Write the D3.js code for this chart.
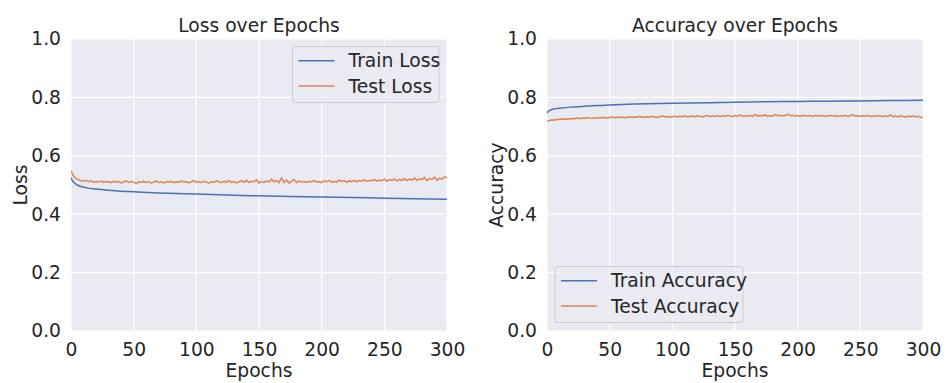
<!DOCTYPE html>
<html><head><meta charset="utf-8">
<script src="https://cdn.jsdelivr.net/npm/d3@7"></script>
<style>body{margin:0;background:#fff}text{font-family:"DejaVu Sans",sans-serif;fill:#262626}</style>
</head><body><svg id="c" width="947" height="383"></svg>
<script>
// ---- data ----
const xTicks = [0,50,100,150,200,250,300];
const yTicks = [0.0,0.2,0.4,0.6,0.8,1.0];

const trainLossEpochs = [0,1,2,3,5,8,12,20,30,40,50,70,100,130,150,175,200,225,250,275,300];
const trainLoss =       [0.526,0.516,0.510,0.506,0.500,0.495,0.491,0.486,0.482,0.479,0.477,0.473,0.469,0.465,0.463,0.461,0.459,0.457,0.455,0.453,0.451];

const trainAccEpochs = [0,1,2,3,5,8,12,20,30,40,50,70,100,130,150,175,200,225,250,275,300];
const trainAcc =       [0.746,0.752,0.755,0.757,0.760,0.762,0.764,0.767,0.770,0.772,0.774,0.777,0.780,0.782,0.783,0.785,0.786,0.787,0.788,0.789,0.790];

// test series sampled every 2 epochs (0..300)
const testLoss = [
0.548,0.531,0.522,0.518,0.515,0.513,0.516,0.511,0.514,0.509,
0.512,0.510,0.514,0.509,0.512,0.511,0.508,0.513,0.510,0.512,
0.507,0.511,0.514,0.509,0.512,0.510,0.505,0.511,0.509,0.513,
0.508,0.512,0.506,0.510,0.514,0.509,0.511,0.507,0.512,0.510,
0.513,0.508,0.511,0.509,0.514,0.510,0.512,0.507,0.511,0.515,
0.509,0.512,0.508,0.513,0.510,0.506,0.512,0.509,0.514,0.511,
0.508,0.513,0.510,0.515,0.509,0.512,0.507,0.511,0.514,0.510,
0.516,0.508,0.513,0.511,0.518,0.507,0.512,0.509,0.514,0.510,
0.520,0.511,0.515,0.508,0.524,0.509,0.517,0.506,0.513,0.519,
0.508,0.514,0.510,0.512,0.509,0.513,0.511,0.515,0.510,0.512,
0.508,0.514,0.511,0.516,0.509,0.513,0.510,0.517,0.512,0.515,
0.509,0.514,0.512,0.516,0.511,0.515,0.513,0.518,0.512,0.516,
0.514,0.519,0.513,0.517,0.515,0.520,0.513,0.518,0.516,0.521,
0.514,0.519,0.516,0.522,0.515,0.520,0.517,0.524,0.516,0.521,
0.518,0.526,0.515,0.522,0.519,0.527,0.516,0.523,0.520,0.528,
0.526];

const testAcc = [
0.718,0.721,0.723,0.722,0.725,0.724,0.726,0.725,0.727,0.726,
0.728,0.727,0.729,0.727,0.730,0.728,0.731,0.729,0.728,0.730,
0.729,0.731,0.730,0.732,0.729,0.731,0.733,0.730,0.732,0.731,
0.733,0.730,0.732,0.734,0.731,0.733,0.732,0.735,0.731,0.733,
0.734,0.732,0.735,0.733,0.731,0.734,0.736,0.733,0.735,0.732,
0.734,0.736,0.733,0.735,0.734,0.737,0.733,0.735,0.736,0.734,
0.737,0.735,0.733,0.736,0.738,0.734,0.736,0.735,0.738,0.734,
0.737,0.735,0.739,0.736,0.734,0.738,0.736,0.740,0.735,0.737,
0.736,0.739,0.735,0.742,0.736,0.738,0.737,0.740,0.735,0.738,
0.736,0.741,0.737,0.739,0.736,0.738,0.743,0.737,0.739,0.736,
0.738,0.735,0.739,0.737,0.736,0.738,0.735,0.739,0.737,0.736,
0.738,0.735,0.737,0.739,0.736,0.738,0.735,0.737,0.736,0.739,
0.735,0.737,0.741,0.736,0.738,0.735,0.737,0.736,0.739,0.734,
0.737,0.735,0.738,0.736,0.734,0.737,0.735,0.740,0.734,0.736,
0.733,0.737,0.735,0.732,0.736,0.734,0.737,0.733,0.735,0.732,
0.731];

const blue = "#4c72b0", orange = "#dd8452";

// ---- drawing ----
const svg = d3.select("#c");
const panels = [
  {left:71, title:"Loss over Epochs", ylabel:"Loss",
   series:[{name:"Train Loss", x:trainLossEpochs, y:trainLoss, color:blue},
           {name:"Test Loss", x:testLoss.map((d,i)=>i*2), y:testLoss, color:orange}],
   legend:{x:292.5,y:46.5,w:146.5}},
  {left:547, title:"Accuracy over Epochs", ylabel:"Accuracy",
   series:[{name:"Train Accuracy", x:trainAccEpochs, y:trainAcc, color:blue},
           {name:"Test Accuracy", x:testAcc.map((d,i)=>i*2), y:testAcc, color:orange}],
   legend:{x:555,y:266.5,w:188}}
];
const pTop=39, pBottom=331, W=376;
const fs = 18.7;

panels.forEach(p=>{
  const x = d3.scaleLinear().domain([0,300]).range([p.left,p.left+W]);
  const y = d3.scaleLinear().domain([0,1]).range([pBottom,pTop]);
  const g = svg.append("g");
  g.append("rect").attr("x",p.left).attr("y",pTop).attr("width",W).attr("height",pBottom-pTop).attr("fill","#eaeaf2");
  g.selectAll(".gx").data(xTicks).enter().append("line")
    .attr("x1",d=>x(d)).attr("x2",d=>x(d)).attr("y1",pTop).attr("y2",pBottom)
    .attr("stroke","#fff").attr("stroke-width",1.2);
  g.selectAll(".gy").data(yTicks).enter().append("line")
    .attr("y1",d=>y(d)).attr("y2",d=>y(d)).attr("x1",p.left).attr("x2",p.left+W)
    .attr("stroke","#fff").attr("stroke-width",1.2);
  const ax = g.append("g").attr("transform",`translate(0,${pBottom})`)
    .call(d3.axisBottom(x).tickValues(xTicks).tickSize(0).tickPadding(12).tickFormat(d3.format("d")));
  ax.select(".domain").remove();
  ax.selectAll("text").attr("font-size",fs).attr("font-family","DejaVu Sans").attr("fill","#262626");
  const ay = g.append("g").attr("transform",`translate(${p.left},0)`)
    .call(d3.axisLeft(y).tickValues(yTicks).tickSize(0).tickPadding(10).tickFormat(d3.format(".1f")));
  ay.select(".domain").remove();
  ay.selectAll("text").attr("font-size",fs).attr("font-family","DejaVu Sans").attr("fill","#262626");

  const clipId = "clip"+p.left;
  svg.append("clipPath").attr("id",clipId).append("rect").attr("x",p.left).attr("y",pTop).attr("width",W).attr("height",pBottom-pTop);
  p.series.forEach(s=>{
    const line = d3.line().x((d,i)=>x(s.x[i])).y(d=>y(d)).curve(s.name.startsWith("Train")?d3.curveMonotoneX:d3.curveLinear);
    g.append("path").datum(s.y).attr("d",line).attr("fill","none").attr("stroke",s.color)
      .attr("stroke-width",1.5).attr("clip-path",`url(#${clipId})`);
  });
  g.append("text").attr("x",p.left+W/2).attr("y",31.5).attr("text-anchor","middle").attr("font-size",fs).text(p.title);
  g.append("text").attr("x",p.left+W/2).attr("y",377).attr("text-anchor","middle").attr("font-size",fs).text("Epochs");
  g.append("text").attr("transform",`translate(${p.left-51},${(pTop+pBottom)/2}) rotate(-90)`)
    .attr("text-anchor","middle").attr("dy","0.35em").attr("font-size",fs).text(p.ylabel);
  const L = p.legend;
  g.append("rect").attr("x",L.x).attr("y",L.y).attr("width",L.w).attr("height",56).attr("rx",3)
    .attr("fill","#eaeaf2").attr("fill-opacity",0.8).attr("stroke","#cccccc").attr("stroke-width",1);
  p.series.forEach((s,i)=>{
    const cy = L.y+14.2+i*25.3;
    g.append("line").attr("x1",L.x+6).attr("x2",L.x+42).attr("y1",cy).attr("y2",cy).attr("stroke",s.color).attr("stroke-width",1.5);
    g.append("text").attr("x",L.x+56).attr("y",cy).attr("dy","0.35em").attr("font-size",fs).text(s.name);
  });
});
</script></body></html>
